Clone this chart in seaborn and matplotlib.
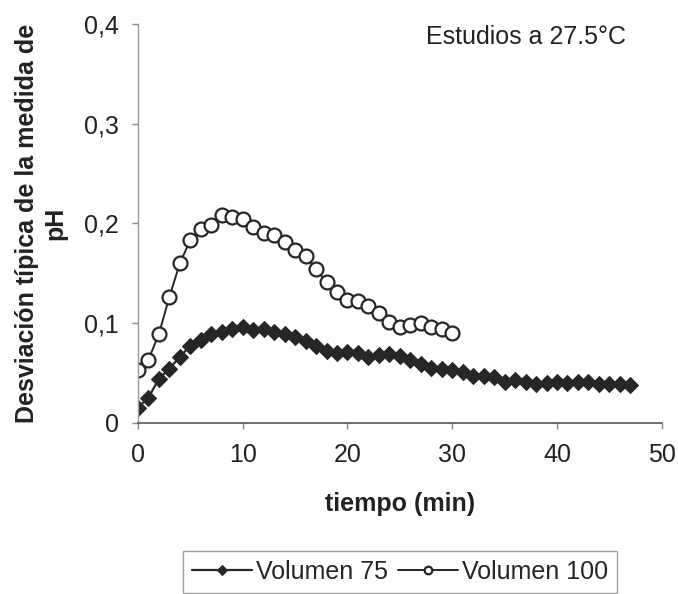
import matplotlib
matplotlib.use("Agg")
import matplotlib.pyplot as plt
import seaborn as sns
import pandas as pd
from matplotlib.ticker import FuncFormatter

# data
t_75 = list(range(0, 48))
sd_75 = [0.015, 0.025, 0.044, 0.054, 0.066, 0.077, 0.083, 0.089, 0.091, 0.094,
         0.096, 0.093, 0.094, 0.091, 0.089, 0.086, 0.082, 0.077, 0.072, 0.070,
         0.071, 0.070, 0.066, 0.068, 0.069, 0.067, 0.063, 0.059, 0.055, 0.054,
         0.053, 0.051, 0.047, 0.047, 0.046, 0.041, 0.043, 0.041, 0.039, 0.040,
         0.041, 0.040, 0.041, 0.041, 0.039, 0.039, 0.039, 0.038]

t_100 = list(range(0, 31))
sd_100 = [0.053, 0.063, 0.089, 0.126, 0.160, 0.183, 0.194, 0.198, 0.208, 0.206,
          0.204, 0.196, 0.190, 0.188, 0.181, 0.173, 0.167, 0.154, 0.141, 0.131,
          0.123, 0.122, 0.117, 0.110, 0.101, 0.096, 0.098, 0.100, 0.096, 0.094,
          0.090]

x_ticks = [0, 10, 20, 30, 40, 50]
y_ticks = [0, 0.1, 0.2, 0.3, 0.4]

df75 = pd.DataFrame({"tiempo": t_75, "sd": sd_75})
df100 = pd.DataFrame({"tiempo": t_100, "sd": sd_100})

sns.set_style("white")
plt.rcParams['font.family'] = ['Liberation Sans', 'DejaVu Sans']

fig = plt.figure(figsize=(6.78, 5.94), dpi=100)
ax = fig.add_axes([0.2035, 0.2887, 0.7725, 0.671])

dark = "#262626"
sns.lineplot(data=df75, x="tiempo", y="sd", ax=ax, color=dark, lw=1.6,
             marker="D", markersize=8.5, markerfacecolor=dark,
             markeredgecolor=dark, label="Volumen 75")
sns.lineplot(data=df100, x="tiempo", y="sd", ax=ax, color=dark, lw=1.4,
             marker="o", markersize=10, markerfacecolor="white",
             markeredgecolor=dark, markeredgewidth=1.6, label="Volumen 100")

ax.set_xlim(0, 50)
ax.set_ylim(0, 0.4)
ax.set_xticks(x_ticks)
ax.set_yticks(y_ticks)
ax.yaxis.set_major_formatter(FuncFormatter(lambda v, p: "0" if v == 0 else f"{v:.1f}".replace(".", ",")))

for s in ["top", "right"]:
    ax.spines[s].set_visible(False)
ax.spines["left"].set_color("#9a9a9a")
ax.spines["left"].set_linewidth(1.0)
ax.spines["bottom"].set_color("#555555")
ax.spines["bottom"].set_linewidth(1.2)
ax.tick_params(axis="both", which="major", labelsize=18, colors="#888888",
               labelcolor="#222222", length=4, width=1, direction="out")
ax.tick_params(axis="y", pad=10, left=True)
ax.tick_params(axis="x", pad=11, bottom=True)

ax.set_xlabel("tiempo (min)", fontsize=18, fontweight="bold", color="#222222", labelpad=18)
ax.set_ylabel("Desviación típica de la medida de\npH", fontsize=18, fontweight="bold",
              color="#222222", labelpad=12)

ax.text(37, 0.387, "Estudios a 27.5°C", fontsize=18, ha="center", va="center", color="#222222")

ax.get_legend().remove()
handles, labels = ax.get_legend_handles_labels()
leg = fig.legend(handles, labels, loc="upper center", bbox_to_anchor=(0.59, 0.093),
                 ncol=2, fontsize=18, frameon=True, fancybox=False, edgecolor="#888888",
                 handlelength=2.4, handletextpad=0.15, columnspacing=0.4,
                 markerscale=0.55, borderpad=0.35)
leg.get_frame().set_linewidth(1.0)

fig.savefig("out.png", dpi=100)
